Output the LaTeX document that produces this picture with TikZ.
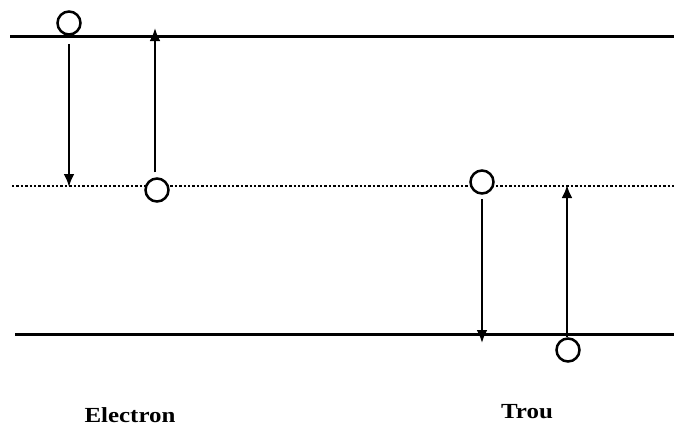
\documentclass[tikz,border=0pt]{standalone}
\usepackage{fontspec}
\setmainfont{Liberation Serif}
\usetikzlibrary{arrows, arrows.meta, positioning}

\tikzset{
  bande/.style={line width=3pt},
  piege/.style={line width=2.4pt, dash pattern=on 2.4pt off 2pt},
  porteur/.style={circle, draw, line width=2.5pt, fill=white, minimum size=23pt, inner sep=0pt},
  saut/.style={line width=2.6pt, -{Latex[length=13pt, width=11pt]}},
  legende/.style={font=\bfseries\fontsize{21.5}{24}\selectfont, anchor=base}
}

\begin{document}
\begin{tikzpicture}[x=1pt, y=-1pt]
        \useasboundingbox (0,0) rectangle (674,439);
        % niveaux
        \coordinate (bc-g) at (10,36);  \coordinate (bc-d) at (674,36);
        \coordinate (nt-g) at (12,186); \coordinate (nt-d) at (674,186);
        \coordinate (bv-g) at (15,334); \coordinate (bv-d) at (674,334);
        \draw[bande] (bc-g) -- (bc-d);
        \draw[piege] (nt-g) -- (nt-d);
        \draw[bande] (bv-g) -- (bv-d);
        % porteurs
        \node[porteur] (e1) at (69,23) {};
        \node[porteur] (e2) at (157,190) {};
        \node[porteur] (t1) at (482,182) {};
        \node[porteur] (t2) at (568,350) {};
        % transitions
        \draw[saut, shorten <=8pt, shorten >=-1pt] (e1.south) -- (e1.south |- nt-g);
        \draw[saut, shorten <=5pt, shorten >=-8pt] ([xshift=-2pt]e2.north) -- ([xshift=-2pt]e2.north |- bc-g);
        \draw[saut, shorten <=4pt, shorten >=-9pt] (t1.south) -- (t1.south |- bv-g);
        \draw[saut, shorten >=-1pt] ([xshift=-1pt]t2.north) -- ([xshift=-1pt]t2.north |- nt-g);
        % legendes
        \node[legende] (electron) at (130,422) {\scalebox{1.16}[1]{Electron}};
        \node[legende] (trou) at (527,418) {\scalebox{1.16}[1]{Trou}};
    \end{tikzpicture}
\end{document}
